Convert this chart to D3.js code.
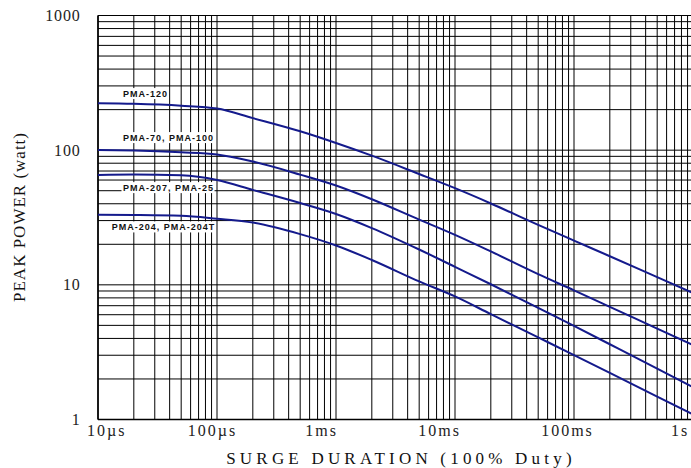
<!DOCTYPE html>
<html>
<head>
<meta charset="utf-8">
<script src="https://cdn.jsdelivr.net/npm/d3@7"></script>
<style>
  html, body { margin: 0; padding: 0; background: #fff; }
  svg { display: block; }
</style>
</head>
<body>
<div id="chart"></div>
<script>
// ---- data ----
const times = [1e-5, 2e-5, 5e-5, 1e-4, 2e-4, 5e-4, 1e-3, 2e-3, 5e-3, 1e-2, 2e-2, 5e-2, 0.1, 0.2, 0.5, 1];
const seriesNames = ["PMA-120", "PMA-70, PMA-100", "PMA-207, PMA-25", "PMA-204, PMA-204T"];
const pma120 = [223, 221, 214, 204, 173, 138, 113, 91, 66.5, 52.2, 40.2, 27.9, 21.3, 16.3, 11.4, 8.7];
const pma70  = [100.5, 99.5, 96.5, 93, 82.3, 65.8, 54.6, 43.2, 30.5, 23.5, 17.7, 12.0, 9.1, 6.87, 4.73, 3.57];
const pma207 = [65.5, 66, 65, 60, 50.7, 40.5, 33.6, 26.4, 18.3, 13.6, 10.1, 6.74, 4.95, 3.62, 2.39, 1.74];
const pma204 = [33.1, 33.0, 32.6, 31.0, 29.0, 23.8, 19.6, 15.3, 10.6, 8.2, 6.06, 4.07, 3.01, 2.22, 1.48, 1.09];
const xTickValues = [1e-5, 1e-4, 1e-3, 1e-2, 1e-1, 1];
const xTickLabels = ["10\u00B5s", "100\u00B5s", "1ms", "10ms", "100ms", "1s"];
const yTickValues = [1, 10, 100, 1000];
const yTickLabels = ["1", "10", "100", "1000"];

// ---- layout ----
const W = 691, H = 468;
const xLabelNudge = [8.7, -4.5, -14.3, -15.3, -6.5, -13];
const seriesLabelLayout = [
  { dx: 25, dy: -6.7 },
  { dx: 25, dy: -9.3 },
  { dx: 25, dy: 15.7 },
  { dx: 13.7, dy: 15.1 }
];
const lineColor = "#141a8c";

const svg = d3.select("#chart").append("svg")
  .attr("width", W).attr("height", H)
  .attr("viewBox", `0 0 ${W} ${H}`);

const x = d3.scaleLog().domain([1e-5, 1]).range([98, 693]);
const y = d3.scaleLog().domain([1, 1000]).range([419.5, 15.5]);

// grid
const gGrid = svg.append("g").attr("stroke", "#000").attr("stroke-width", 1).attr("fill", "none");
gGrid.selectAll("line.v").data(x.ticks()).join("line").attr("class", "v")
  .attr("x1", d => x(d)).attr("x2", d => x(d))
  .attr("y1", y(1000)).attr("y2", y(1));
gGrid.selectAll("line.h").data(y.ticks()).join("line").attr("class", "h")
  .attr("x1", x(1e-5)).attr("x2", x(1))
  .attr("y1", d => y(d)).attr("y2", d => y(d));

// axis lines
svg.append("line").attr("x1", x(1e-5)).attr("x2", x(1e-5)).attr("y1", y(1000)).attr("y2", y(1))
  .attr("stroke", "#000").attr("stroke-width", 1.6);
svg.append("line").attr("x1", x(1e-5)).attr("x2", x(1)).attr("y1", y(1)).attr("y2", y(1))
  .attr("stroke", "#000").attr("stroke-width", 1.6);

// curves
const allSeries = [pma120, pma70, pma207, pma204];
const line = d3.line()
  .x((d, i) => x(times[i]))
  .y(d => y(d))
  .curve(d3.curveMonotoneX);
svg.append("g").selectAll("path").data(allSeries).join("path")
  .attr("d", d => line(d))
  .attr("fill", "none")
  .attr("stroke", lineColor)
  .attr("stroke-width", 2);

// series labels with white boxes
const gLab = svg.append("g");
allSeries.forEach((vals, i) => {
  const g = gLab.append("g");
  const rect = g.append("rect").attr("fill", "#fff");
  const t = g.append("text")
    .attr("x", x(times[0]) + seriesLabelLayout[i].dx)
    .attr("y", y(vals[0]) + seriesLabelLayout[i].dy)
    .attr("font-family", "'Liberation Sans', Arial, sans-serif")
    .attr("font-weight", "bold")
    .attr("font-size", 9)
    .attr("letter-spacing", "1px")
    .attr("fill", "#111")
    .text(seriesNames[i]);
  const bb = t.node().getBBox();
  rect.attr("x", bb.x - 1.5).attr("y", bb.y - 0.5).attr("width", bb.width + 2).attr("height", bb.height + 1);
});

// y tick labels
svg.append("g").selectAll("text").data(yTickValues).join("text")
  .attr("x", 80.5)
  .attr("y", d => y(d) + 5.5)
  .attr("text-anchor", "end")
  .attr("font-family", "'Liberation Serif', 'Times New Roman', serif")
  .attr("font-size", 16)
  .attr("letter-spacing", "0.8px")
  .attr("fill", "#222")
  .text((d, i) => yTickLabels[i]);

// x tick labels
svg.append("g").selectAll("text").data(xTickValues).join("text")
  .attr("x", (d, i) => x(d) + xLabelNudge[i])
  .attr("y", 436)
  .attr("text-anchor", "middle")
  .attr("font-family", "'Liberation Serif', 'Times New Roman', serif")
  .attr("font-size", 16)
  .attr("letter-spacing", "2px")
  .attr("fill", "#222")
  .text((d, i) => xTickLabels[i]);

// axis titles
svg.append("text")
  .attr("x", 401).attr("y", 464)
  .attr("text-anchor", "middle")
  .attr("font-family", "'Liberation Serif', 'Times New Roman', serif")
  .attr("font-size", 17)
  .attr("letter-spacing", "4.2px")
  .attr("fill", "#111")
  .text("SURGE DURATION (100% Duty)");

svg.append("text")
  .attr("transform", "translate(25,217) rotate(-90)")
  .attr("text-anchor", "middle")
  .attr("font-family", "'Liberation Serif', 'Times New Roman', serif")
  .attr("font-size", 17)
  .attr("letter-spacing", "1px")
  .attr("fill", "#111")
  .text("PEAK POWER (watt)");
</script>
</body>
</html>
